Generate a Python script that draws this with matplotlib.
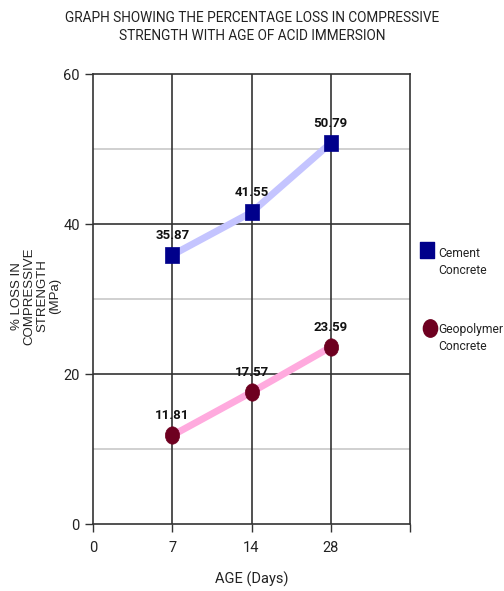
import matplotlib
matplotlib.use("Agg")
import matplotlib.pyplot as plt
from matplotlib.path import Path
import numpy as np

categories = ["0", "7", "14", "28"]
series_names = ["Cement\nConcrete", "Geopolymer\nConcrete"]
cement = [35.87, 41.55, 50.79]
geopolymer = [11.81, 17.57, 23.59]
data_idx = [1, 2, 3]
y_ticks = [0, 20, 40, 60]

narrow = ["Roboto", "Liberation Sans", "DejaVu Sans"]
regular = ["Liberation Sans", "DejaVu Sans"]

rect_marker = Path([(-0.4, -0.5), (0.4, -0.5), (0.4, 0.5), (-0.4, 0.5), (-0.4, -0.5)],
                   [Path.MOVETO, Path.LINETO, Path.LINETO, Path.LINETO, Path.CLOSEPOLY])
_c = Path.unit_circle()
ell_marker = Path(_c.vertices * np.array([0.41, 0.5]), _c.codes)

fig = plt.figure(figsize=(5.04, 5.91), dpi=100)
ax = fig.add_axes([93/504, 1-524/591, 317/504, 450/591])
ax.set_xlim(0, 4)
ax.set_ylim(0, 60)

for y in [10, 30, 50]:
    ax.axhline(y, color="#c8c8c8", lw=1.2, zorder=1)
for y in [20, 40]:
    ax.axhline(y, color="#333333", lw=1.2, zorder=1)
for x in data_idx:
    ax.axvline(x, color="#333333", lw=1.2, zorder=1)

for s in ax.spines.values():
    s.set_color("#333333")
    s.set_linewidth(1.2)

ax.plot(data_idx, cement, color="#c4c4ff", lw=5, zorder=2, solid_capstyle="butt")
ax.plot(data_idx, geopolymer, color="#ffaade", lw=5, zorder=2, solid_capstyle="butt")

ax.plot(data_idx, cement, ls="none", marker=rect_marker, ms=12, color="#00008b",
        mec="#00008b", mew=0.5, zorder=3, clip_on=False)
ax.plot(data_idx, geopolymer, ls="none", marker=ell_marker, ms=12.5, color="#6e0020",
        mec="#6e0020", mew=0.5, zorder=3, clip_on=False)

for series in (cement, geopolymer):
    for x, v in zip(data_idx, series):
        ax.annotate(f"{v:.2f}", (x, v), xytext=(0, 9.5), textcoords="offset points",
                    ha="center", va="bottom", fontsize=9.5, fontweight="bold",
                    family=narrow, color="#111111")

ax.set_xticks(range(len(categories) + 1))
ax.set_xticklabels(categories + [""])
ax.set_yticks(y_ticks)
ax.tick_params(axis="both", colors="#333333", labelcolor="#222222",
               labelsize=10.5, length=6, width=1)
ax.tick_params(axis="x", pad=6)
for lab in ax.get_xticklabels() + ax.get_yticklabels():
    lab.set_family(narrow)

ax.set_xlabel("AGE (Days)", family=narrow, fontsize=10.5, color="#222222", labelpad=12)
fig.text(36/504, 1-296/591, "% LOSS IN\nCOMPRESSIVE\nSTRENGTH\n(MPa)", rotation=90,
         ha="center", va="center", family=regular, fontsize=9.5,
         color="#222222", linespacing=1.05)

fig.text(252/504, 1-27/591,
         "GRAPH SHOWING THE PERCENTAGE LOSS IN COMPRESSIVE\nSTRENGTH WITH AGE OF ACID IMMERSION",
         ha="center", va="center", family=narrow, fontsize=9.8, color="#222222",
         linespacing=1.35)

# legend
ax.plot([1.054], [0.609], transform=ax.transAxes, marker=rect_marker, ms=12,
        color="#00008b", clip_on=False, ls="none")
ax.plot([1.063], [0.4356], transform=ax.transAxes, marker=ell_marker, ms=12.5,
        color="#6e0020", clip_on=False, ls="none")
ax.text(1.088, 0.582, series_names[0], transform=ax.transAxes, ha="left",
        va="center", family=narrow, fontsize=8.7, color="#222222", linespacing=1.35)
ax.text(1.088, 0.413, series_names[1], transform=ax.transAxes, ha="left",
        va="center", family=narrow, fontsize=8.7, color="#222222", linespacing=1.35)

fig.savefig("out.png", dpi=100)
